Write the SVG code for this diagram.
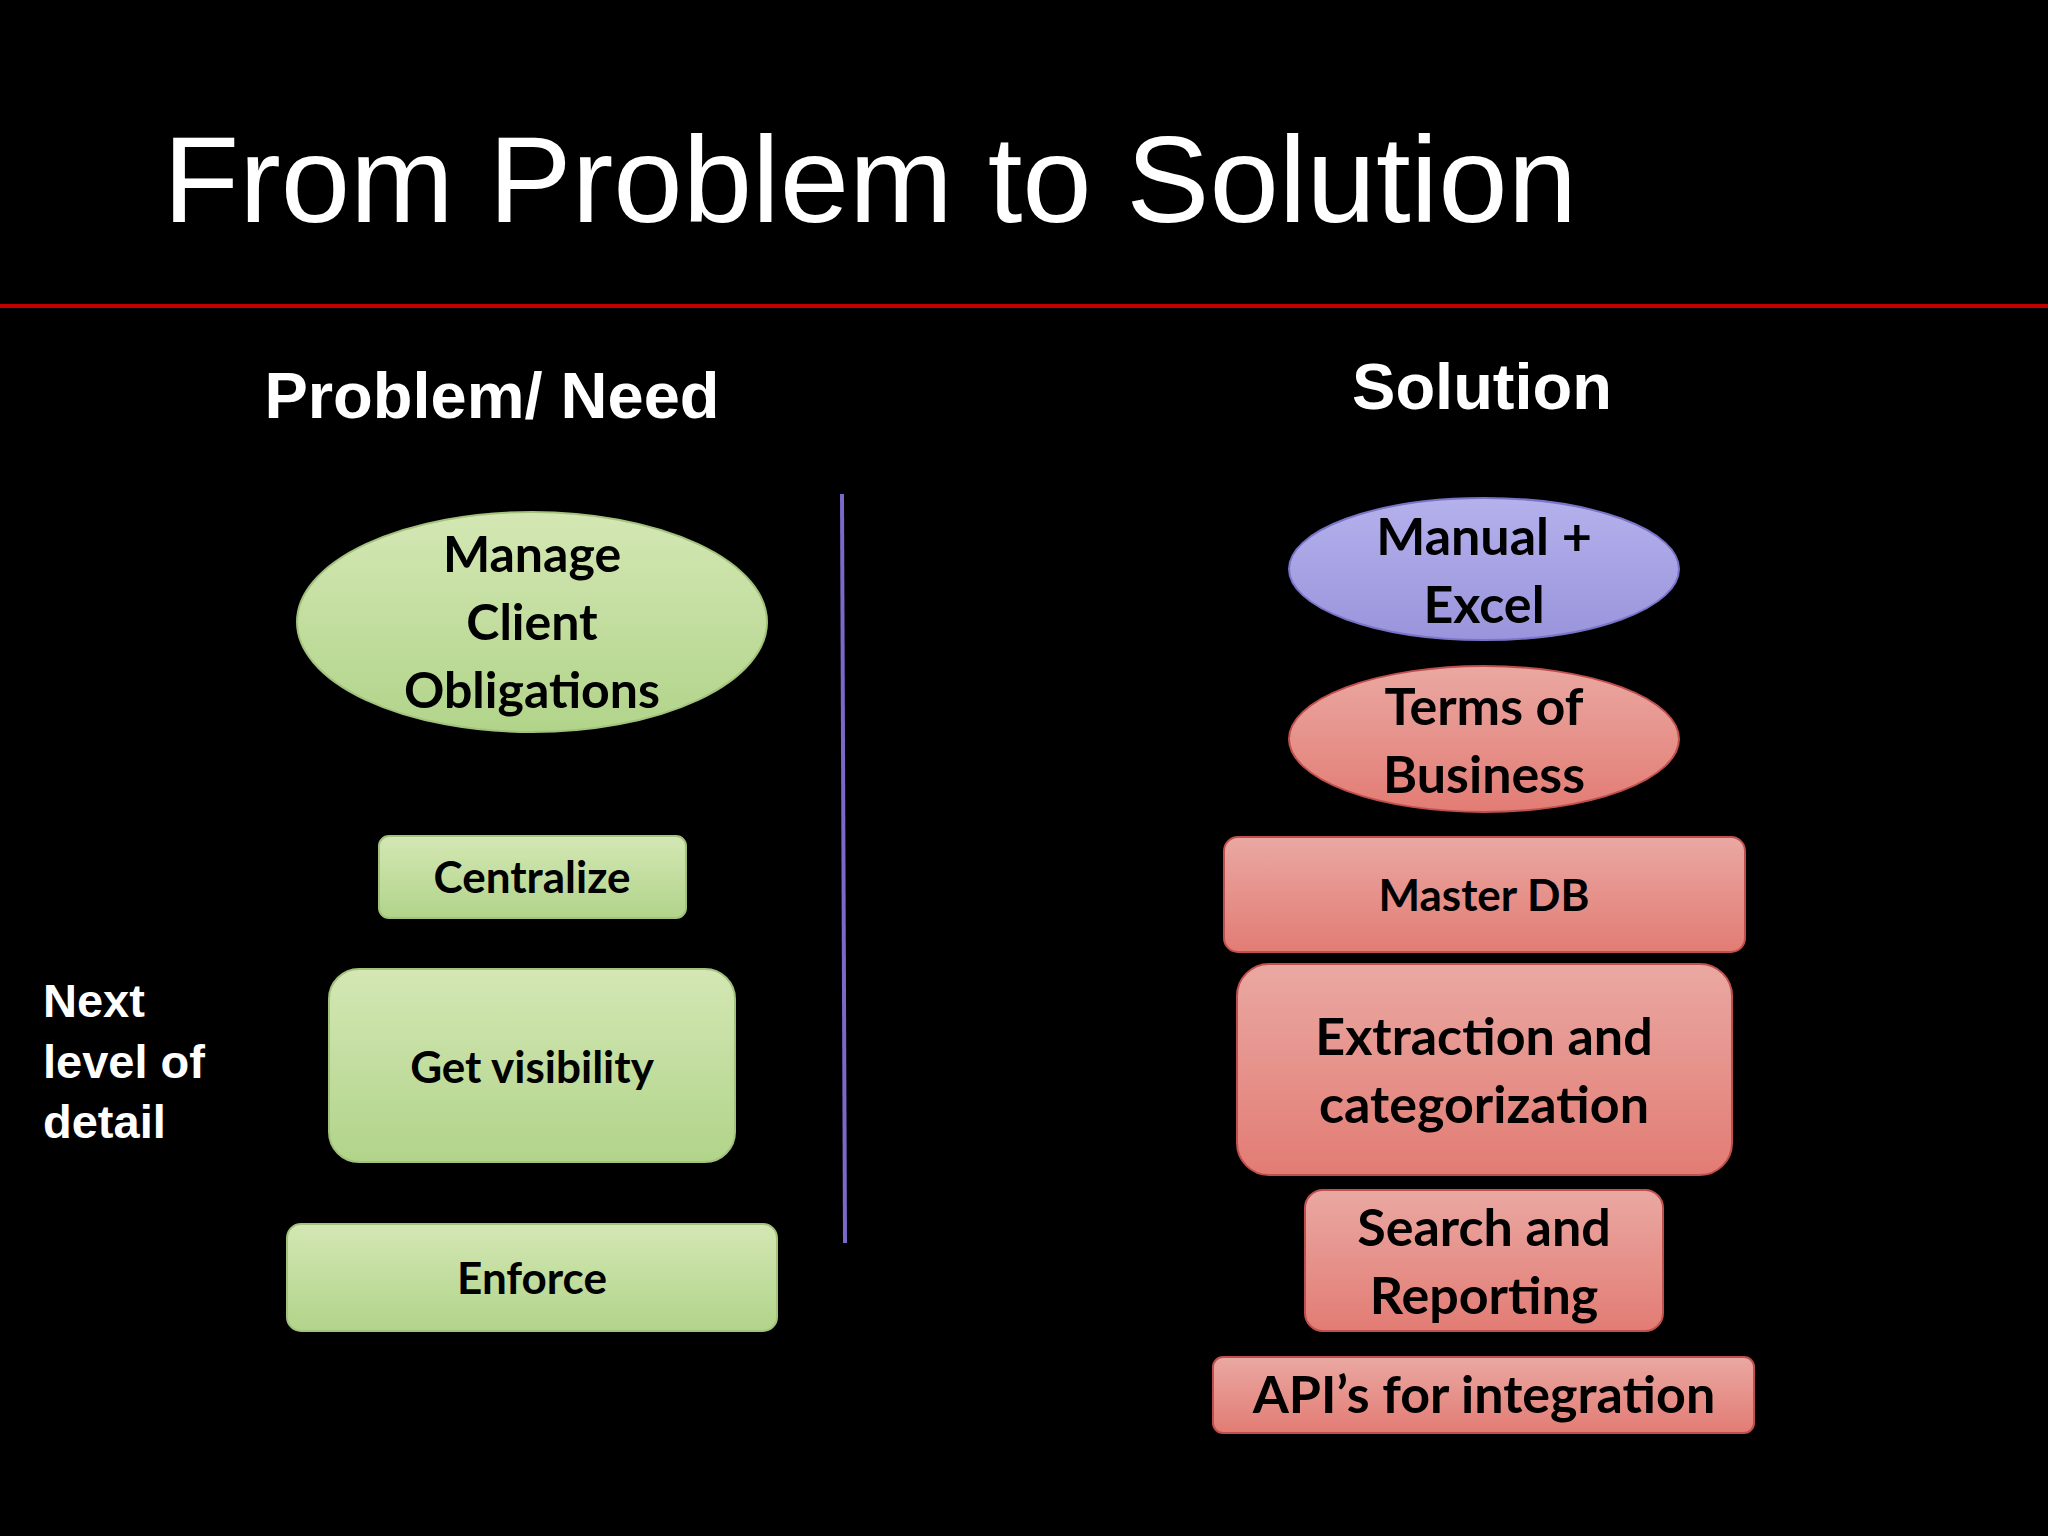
<svg xmlns="http://www.w3.org/2000/svg" width="2048" height="1536" viewBox="0 0 2048 1536">
<defs>
<linearGradient id="g" x1="0" y1="0" x2="0" y2="1"><stop offset="0" stop-color="#d4e7b4"/><stop offset="1" stop-color="#b1d48a"/></linearGradient>
<linearGradient id="r" x1="0" y1="0" x2="0" y2="1"><stop offset="0" stop-color="#eaa8a2"/><stop offset="1" stop-color="#e27c74"/></linearGradient>
<linearGradient id="p" x1="0" y1="0" x2="0" y2="1"><stop offset="0" stop-color="#b5b1ec"/><stop offset="1" stop-color="#9a94dc"/></linearGradient>
</defs>
<style>
.t{font-family:Lato,"Noto Sans",sans-serif;font-weight:bold;fill:#000;text-anchor:middle}
.gs{fill:url(#g);stroke:#a3c27c;stroke-width:2}
.rs{fill:url(#r);stroke:#c0504d;stroke-width:2}
.ps{fill:url(#p);stroke:#7a74c8;stroke-width:2}
.h{font-family:"Liberation Sans",Arial,sans-serif;font-weight:bold;fill:#fff}
</style>
<rect width="2048" height="1536" fill="#000"/>
<text x="163" y="222" font-family="Liberation Sans,Arial,sans-serif" font-size="122" fill="#fff" textLength="1414" lengthAdjust="spacingAndGlyphs">From Problem to Solution</text>
<rect x="0" y="304" width="2048" height="4" fill="#c00000"/>
<text class="h" x="492" y="418" font-size="65" text-anchor="middle">Problem/ Need</text>
<text class="h" x="1482" y="409" font-size="65" text-anchor="middle">Solution</text>
<g id="connectors"><line x1="842" y1="494" x2="845" y2="1243" stroke="#7b68c8" stroke-width="4"/></g>
<g id="n1"><ellipse class="gs" cx="532" cy="622" rx="235" ry="110"/><text class="t" font-size="50" x="532" y="572">Manage</text><text class="t" font-size="50" x="532" y="640">Client</text><text class="t" font-size="50" x="532" y="708">Obligations</text></g>
<g id="n2"><rect class="gs" x="379" y="836" width="307" height="82" rx="10"/><text class="t" font-size="44" x="532" y="893">Centralize</text></g>
<g id="n3"><rect class="gs" x="329" y="969" width="406" height="193" rx="30"/><text class="t" font-size="44" x="532" y="1083">Get visibility</text></g>
<g id="n4"><rect class="gs" x="287" y="1224" width="490" height="107" rx="14"/><text class="t" font-size="44" x="532" y="1294">Enforce</text></g>
<g id="note"><text class="h" font-size="47" x="43" y="1017">Next</text><text class="h" font-size="47" x="43" y="1078">level of</text><text class="h" font-size="47" x="43" y="1138">detail</text></g>
<g id="s1"><ellipse class="ps" cx="1484" cy="569" rx="195" ry="71"/><text class="t" font-size="52" x="1484" y="555">Manual +</text><text class="t" font-size="52" x="1484" y="623">Excel</text></g>
<g id="s2"><ellipse class="rs" cx="1484" cy="739" rx="195" ry="73"/><text class="t" font-size="52" x="1484" y="725">Terms of</text><text class="t" font-size="52" x="1484" y="793">Business</text></g>
<g id="s3"><rect class="rs" x="1224" y="837" width="521" height="115" rx="14"/><text class="t" font-size="44" x="1484" y="911">Master DB</text></g>
<g id="s4"><rect class="rs" x="1237" y="964" width="495" height="211" rx="32"/><text class="t" font-size="52" x="1484" y="1055">Extraction and</text><text class="t" font-size="52" x="1484" y="1123">categorization</text></g>
<g id="s5"><rect class="rs" x="1305" y="1190" width="358" height="141" rx="18"/><text class="t" font-size="52" x="1484" y="1246">Search and</text><text class="t" font-size="52" x="1484" y="1314">Reporting</text></g>
<g id="s6"><rect class="rs" x="1213" y="1357" width="541" height="76" rx="10"/><text class="t" font-size="52" x="1484" y="1413">API’s for integration</text></g>
</svg>
